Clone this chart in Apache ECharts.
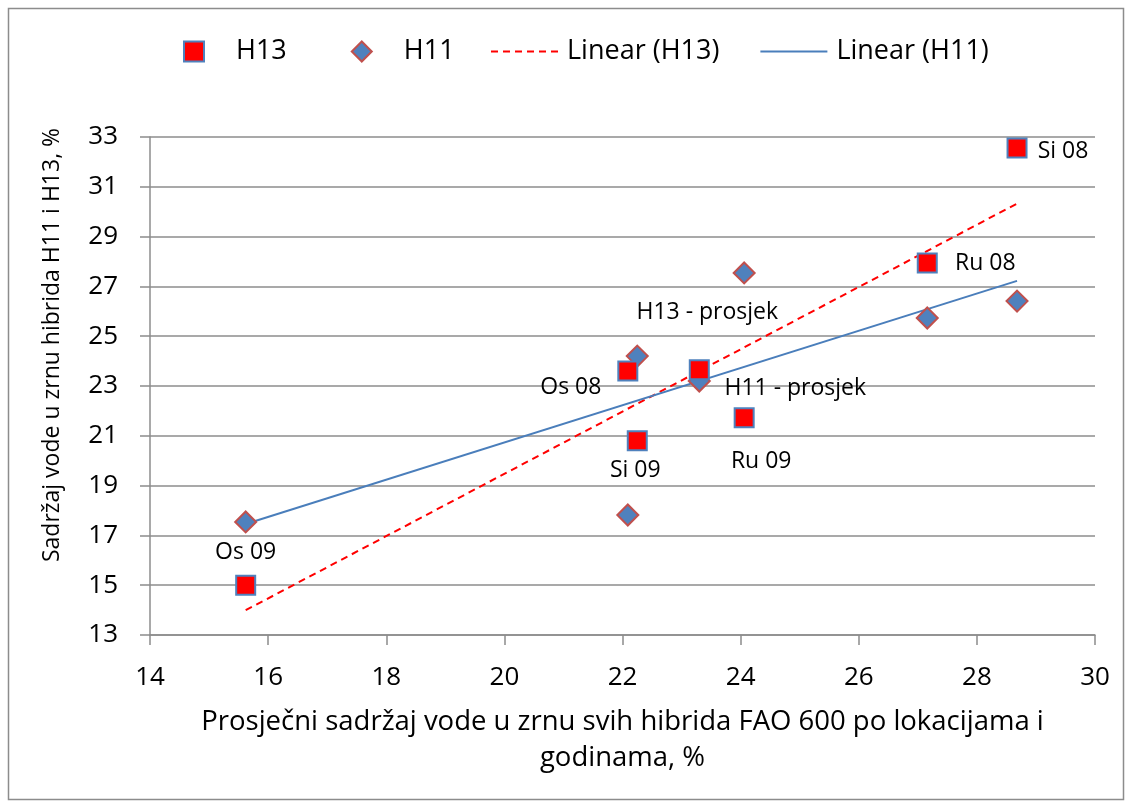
<!DOCTYPE html>
<html>
<head>
<meta charset="utf-8">
<script src="https://cdn.jsdelivr.net/npm/echarts@6/dist/echarts.min.js"></script>
<style>
  html, body { margin: 0; padding: 0; background: #fff; }
  #main { width: 1132px; height: 810px; }
</style>
</head>
<body>
<div id="main"></div>
<script>
// podaci ocitani s grafikona
var prosjekX = [15.62, 22.09, 22.25, 23.30, 24.06, 27.16, 28.68];
var h13 = [15.0, 23.6, 20.8, 23.65, 21.72, 27.94, 32.56];
var h11 = [17.54, 17.82, 24.2, 23.2, 27.54, 25.73, 26.41];
var h13Labels = ['Os 09', 'Os 08', 'Si 09', 'H13 - prosjek', 'Ru 09', 'Ru 08', 'Si 08'];
var h11Labels = ['', '', '', 'H11 - prosjek', '', '', ''];
var xTicks = [14, 16, 18, 20, 22, 24, 26, 28, 30];
var yTicks = [13, 15, 17, 19, 21, 23, 25, 27, 29, 31, 33];

// pomak natpisa u odnosu na tocku (px)
var h13Offsets = [[0, -33], [-57, 16], [-2, 30], [8, -57], [17, 44], [58, 0], [46, 3]];
var h11Offsets = [null, null, null, [96, 7], null, null, null];

var FONT = 'Open Sans';

// linearni trend (najmanji kvadrati)
function linear(xs, ys) {
    var n = xs.length, sx = 0, sy = 0, sxx = 0, sxy = 0;
    for (var i = 0; i < n; i++) {
        sx += xs[i]; sy += ys[i];
        sxx += xs[i] * xs[i]; sxy += xs[i] * ys[i];
    }
    var b = (n * sxy - sx * sy) / (n * sxx - sx * sx);
    var a = (sy - b * sx) / n;
    var x0 = Math.min.apply(null, xs), x1 = Math.max.apply(null, xs);
    return [[x0, a + b * x0], [x1, a + b * x1]];
}

function points(ys, names, offsets) {
    return ys.map(function (y, i) {
        var p = { value: [prosjekX[i], y], name: names[i] };
        if (offsets[i]) {
            p.label = { show: true, position: 'inside', offset: offsets[i], formatter: names[i] };
        }
        return p;
    });
}

// ikone za legendu trend linija
var dashIcon = 'path://M0,0h7v2h-7z M12,0h7v2h-7z M24,0h7v2h-7z M36,0h7v2h-7z M48,0h7v2h-7z M60,0h7v2h-7z';
var solidIcon = 'path://M0,0h67v2h-67z';

var myChart = echarts.init(document.getElementById('main'));

var labelStyle = { color: '#000', fontFamily: FONT, fontSize: 23 };
var axisGray = { color: '#8c8c8c', width: 1.5 };

var option = {
    animation: false,
    backgroundColor: '#fff',
    graphic: [
        {
            type: 'rect', shape: { x: 8.5, y: 8.5, width: 1115, height: 791 },
            style: { fill: 'none', stroke: '#8c8c8c', lineWidth: 1.5 }, silent: true
        },
        {
            type: 'text', x: 52, y: 345, rotation: Math.PI / 2,
            style: {
                text: 'Sadržaj vode u zrnu hibrida H11 i H13, %',
                fontFamily: FONT, fontSize: 23, fill: '#000',
                align: 'center', verticalAlign: 'middle'
            }
        }
    ],
    legend: [
        {
            left: 183, top: 38, padding: 0, itemWidth: 20, itemHeight: 20, itemGap: 64,
            data: [
                { name: 'H13', icon: 'rect' },
                { name: 'H11', icon: 'diamond' }
            ],
            textStyle: { fontFamily: FONT, fontSize: 27, color: '#000', padding: [0, 0, 0, 27] }
        },
        {
            left: 491, top: 38, padding: 0, itemWidth: 69, itemHeight: 2, itemGap: 41,
            data: [
                { name: 'Linear (H13)', icon: dashIcon },
                { name: 'Linear (H11)', icon: solidIcon }
            ],
            textStyle: { fontFamily: FONT, fontSize: 27, color: '#000', padding: [0, 0, 0, 3] }
        }
    ],
    grid: { left: 150, right: 37, top: 137, bottom: 175 },
    xAxis: {
        type: 'value', min: xTicks[0], max: xTicks[xTicks.length - 1], interval: 2,
        name: 'Prosječni sadržaj vode u zrnu svih hibrida FAO 600 po lokacijama i\ngodinama, %',
        nameLocation: 'middle', nameGap: 69,
        nameTextStyle: { fontFamily: FONT, fontSize: 27.5, color: '#000', lineHeight: 36 },
        axisLine: { show: true, lineStyle: axisGray },
        axisTick: { show: true, length: 10, lineStyle: axisGray },
        axisLabel: { margin: 30, fontFamily: FONT, fontSize: 26, color: '#000' },
        splitLine: { show: false }
    },
    yAxis: {
        type: 'value', min: yTicks[0], max: yTicks[yTicks.length - 1], interval: 2,
        axisLine: { show: true, lineStyle: axisGray },
        axisTick: { show: true, length: 10, lineStyle: axisGray },
        axisLabel: { margin: 32, align: 'right', fontFamily: FONT, fontSize: 26, color: '#000' },
        splitLine: { show: true, lineStyle: axisGray }
    },
    series: [
        {
            name: 'Linear (H13)', type: 'line', data: linear(prosjekX, h13),
            symbol: 'none', z: 3,
            lineStyle: { color: '#ff0000', width: 2, type: [7, 5] },
            itemStyle: { color: '#ff0000' }
        },
        {
            name: 'Linear (H11)', type: 'line', data: linear(prosjekX, h11),
            symbol: 'none', z: 3,
            lineStyle: { color: '#4a7ebb', width: 2 },
            itemStyle: { color: '#4a7ebb' }
        },
        {
            name: 'H11', type: 'scatter', symbol: 'diamond', symbolSize: 21, z: 4,
            data: points(h11, h11Labels, h11Offsets),
            itemStyle: { color: '#4f81bd', borderColor: '#c0504d', borderWidth: 2, opacity: 1 },
            label: labelStyle
        },
        {
            name: 'H13', type: 'scatter', symbol: 'rect', symbolSize: 19, z: 5,
            data: points(h13, h13Labels, h13Offsets),
            itemStyle: { color: '#ff0000', borderColor: '#4f81bd', borderWidth: 2, opacity: 1 },
            label: labelStyle
        }
    ]
};

myChart.setOption(option);
</script>
</body>
</html>
